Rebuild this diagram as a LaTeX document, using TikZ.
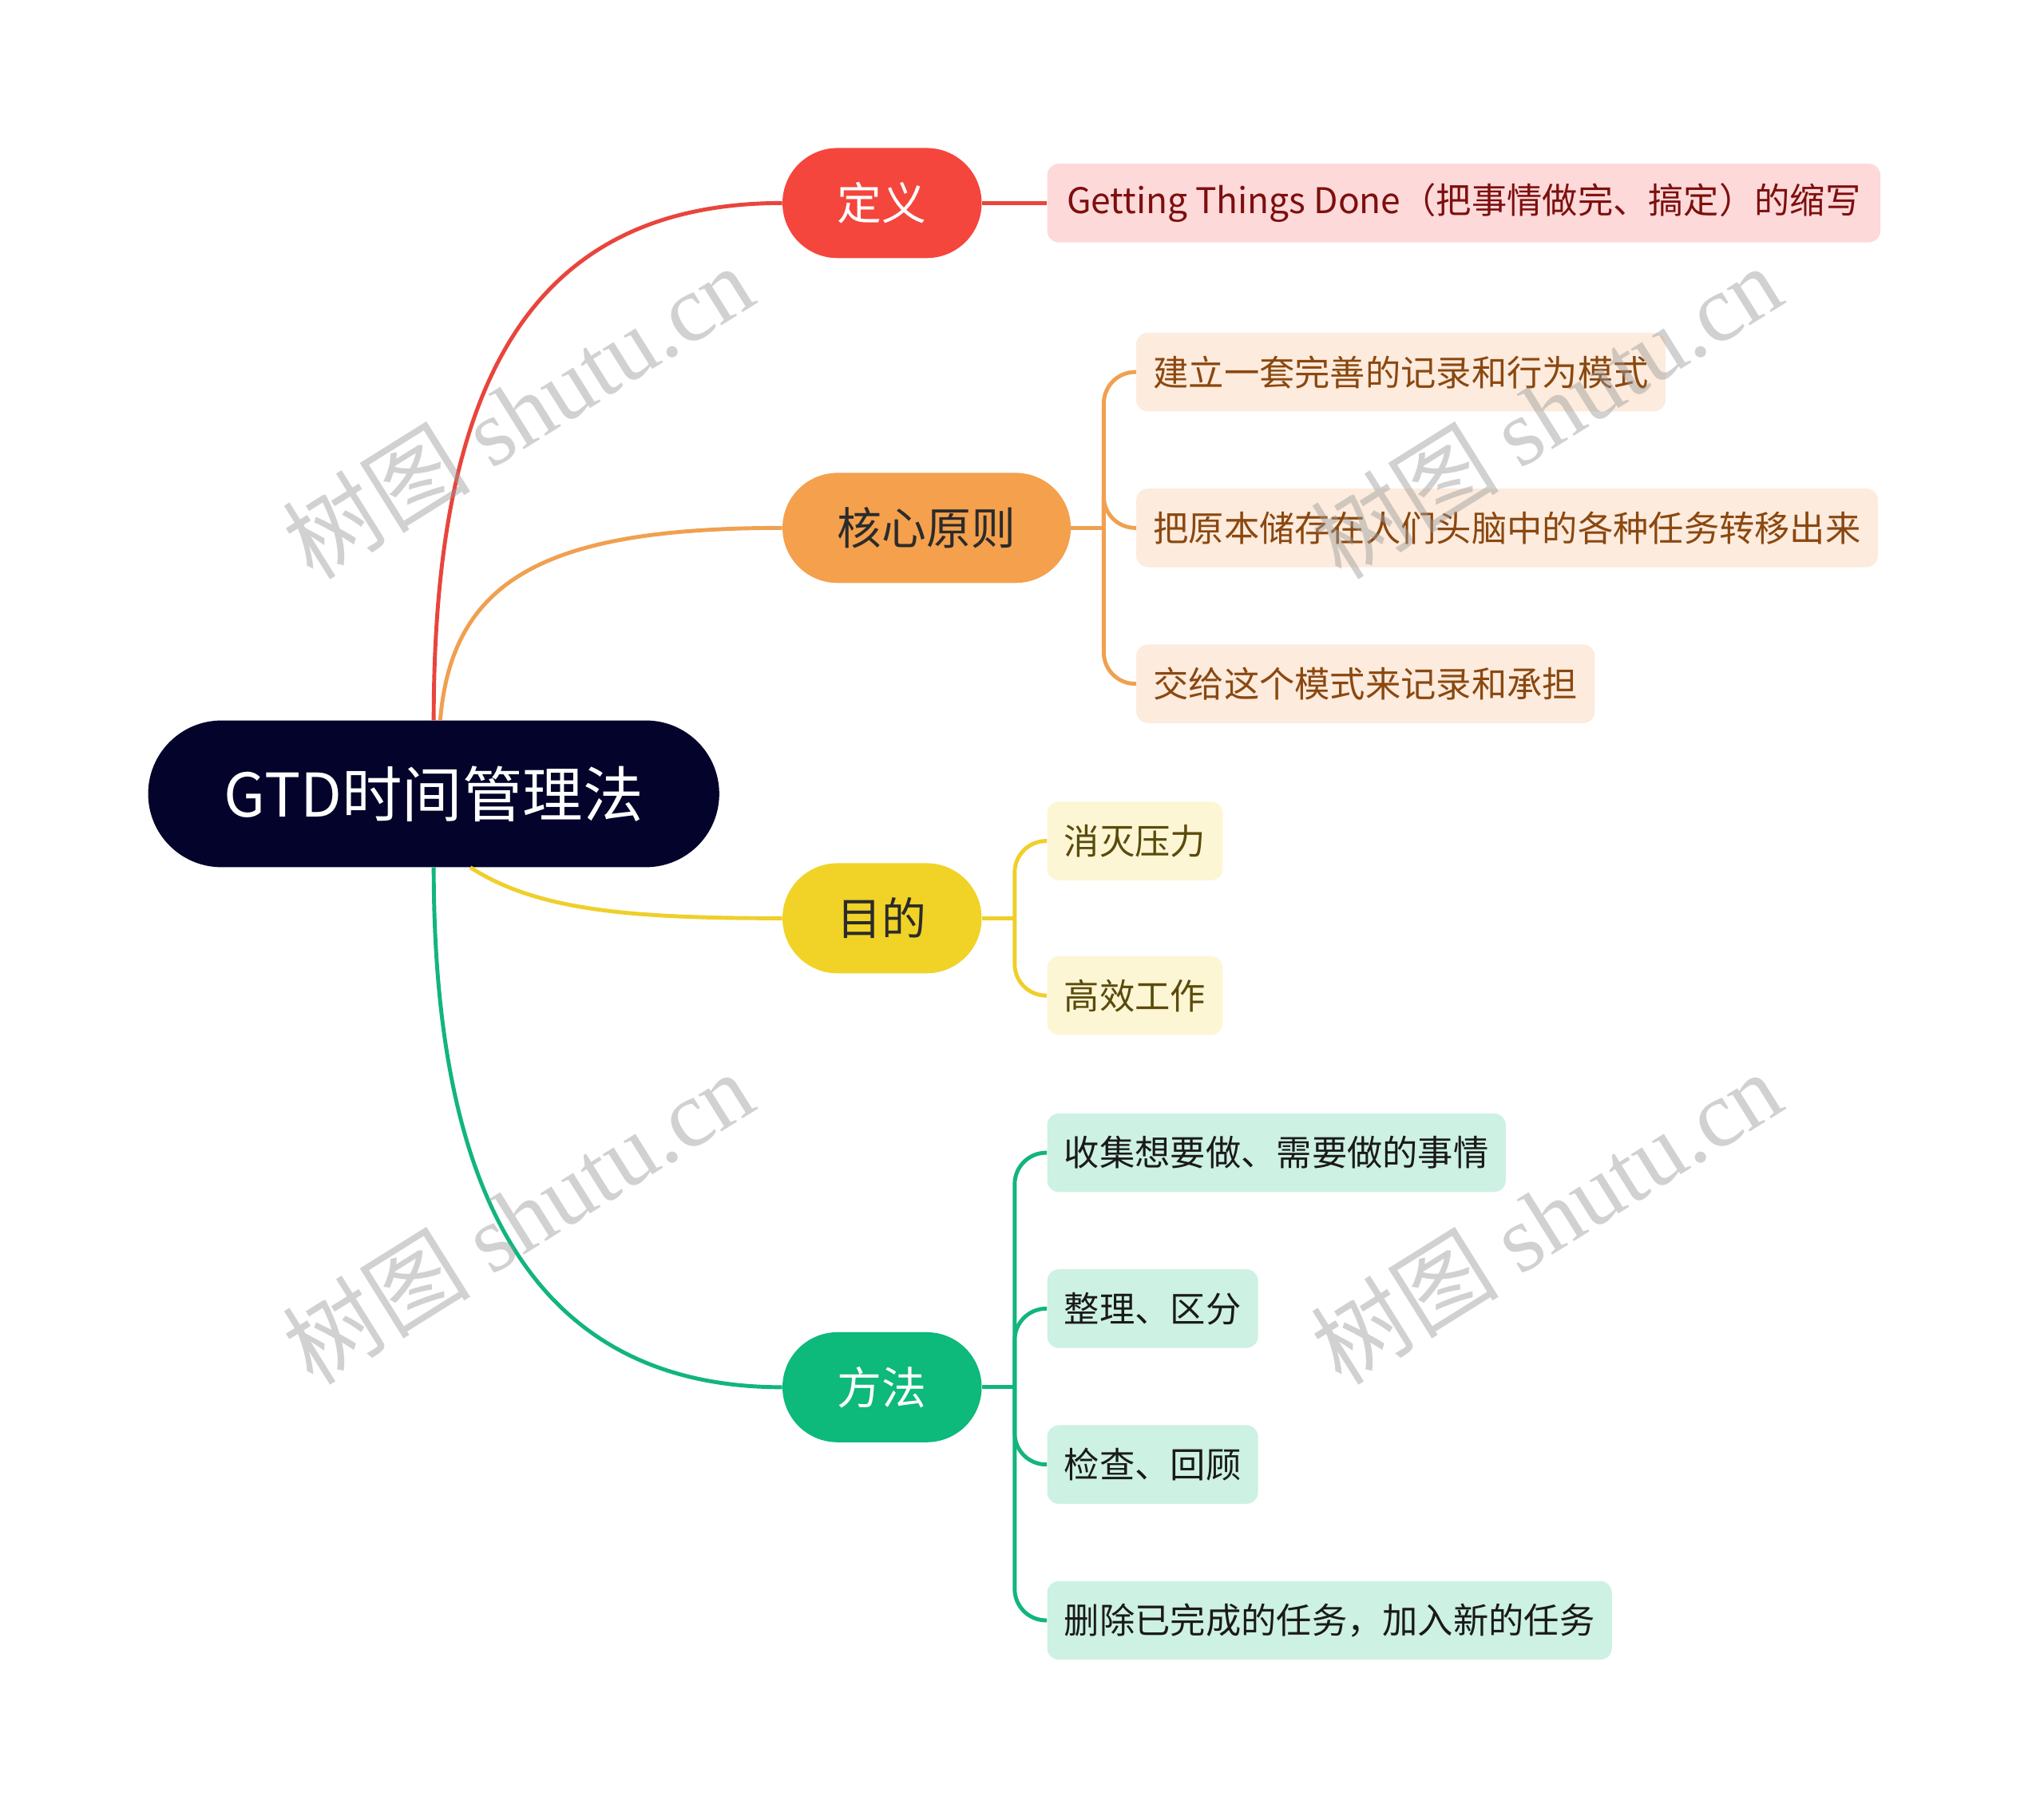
\documentclass[tikz,border=0pt]{standalone}
\usepackage{fontspec}
\setmainfont{Noto Sans CJK SC}
\newfontfamily\wmfont{Liberation Serif}
\definecolor{rootblue}{HTML}{03032B}
\definecolor{dyfill}{HTML}{F4463D}
\definecolor{dyline}{HTML}{E8453C}
\definecolor{dyleaf}{HTML}{FDD9D9}
\definecolor{dytext}{HTML}{7D0F0F}
\definecolor{hxfill}{HTML}{F4A04C}
\definecolor{hxline}{HTML}{F0A050}
\definecolor{hxleaf}{HTML}{FDEBDD}
\definecolor{hxtext}{HTML}{8A4810}
\definecolor{mdfill}{HTML}{F0D326}
\definecolor{mdline}{HTML}{EFCF2A}
\definecolor{mdleaf}{HTML}{FDF6D4}
\definecolor{mdtext}{HTML}{5A4B0C}
\definecolor{fffill}{HTML}{0DB97B}
\definecolor{ffline}{HTML}{12B57C}
\definecolor{ffleaf}{HTML}{CDF1E3}
\definecolor{fftext}{HTML}{1A1A1A}
\definecolor{darktext}{HTML}{2B2B2B}
\tikzset{
  branch/.style={anchor=west, rounded corners=42pt, minimum height=84pt,
    inner xsep=42pt, inner ysep=0pt, font=\fontsize{34pt}{40pt}\selectfont},
  leaf/.style={anchor=west, rounded corners=9pt, minimum height=60pt,
    inner xsep=13pt, inner ysep=0pt, font=\fontsize{27pt}{32pt}\selectfont},
  link/.style={line width=3pt},
  wm/.style={rotate=32, text=black!40, text opacity=0.45,
    font=\fontsize{72pt}{76pt}\selectfont}
}
\begin{document}
\begin{tikzpicture}[x=1pt,y=-1pt]
                \fill[white] (0,0) rectangle (1560,1376.6);
                \useasboundingbox (0,0) rectangle (1560,1376.6);
                %% root
                \node[fill=rootblue, text=white, rounded corners=56pt, minimum height=112pt,
                  inner xsep=58pt, inner ysep=0pt, font=\fontsize{46pt}{54pt}\selectfont]
                  (root) at (331,606) {GTD时间管理法};
                %% branches
                \node[branch, fill=dyfill, text=white] (dy) at (597,155) {定义};
                \node[branch, fill=hxfill, text=darktext] (hx) at (597,403) {核心原则};
                \node[branch, fill=mdfill, text=darktext] (md) at (597,701) {目的};
                \node[branch, fill=fffill, text=white] (ff) at (597,1059) {方法};
                \draw[link, dyline] (root.north) .. controls (331,300) and (400,155) .. (dy.west);
                \draw[link, hxline] ([xshift=5pt]root.north) .. controls (345,440) and (420,403) .. (hx.west);
                \draw[link, mdline] ([xshift=28pt]root.south) .. controls (410,695) and (480,701) .. (md.west);
                \draw[link, ffline] (root.south) .. controls (331,900) and (400,1059) .. (ff.west);
                %% leaves
                \node[leaf, fill=dyleaf, text=dytext, inner xsep=15pt] (dy1) at (799,155) {Getting Things Done（把事情做完、搞定）的缩写};
                \draw[link, dyline] (dy.east) -- (dy1.west);
                \coordinate (hxb) at ([xshift=25pt]hx.east);
                \draw[link, hxline] (hx.east) -- (hxb);
                \foreach \y/\t [count=\i] in {284/建立一套完善的记录和行为模式,
                    403/把原本储存在人们头脑中的各种任务转移出来, 522/交给这个模式来记录和承担} {
                    \node[leaf, fill=hxleaf, text=hxtext] (hx\i) at (867,\y) {\t};
                    \draw[link, hxline, rounded corners=24pt] (hxb) |- (hx\i.west);
                }
                \coordinate (mdb) at ([xshift=25pt]md.east);
                \draw[link, mdline] (md.east) -- (mdb);
                \foreach \y/\t [count=\i] in {642/消灭压力, 760/高效工作} {
                    \node[leaf, fill=mdleaf, text=mdtext] (md\i) at (799,\y) {\t};
                    \draw[link, mdline, rounded corners=24pt] (mdb) |- (md\i.west);
                }
                \coordinate (ffb) at ([xshift=25pt]ff.east);
                \draw[link, ffline] (ff.east) -- (ffb);
                \foreach \y/\t [count=\i] in {880/收集想要做、需要做的事情, 999/整理、区分,
                    1118/检查、回顾, 1237/删除已完成的任务，加入新的任务} {
                    \node[leaf, fill=ffleaf, text=fftext] (ff\i) at (799,\y) {\t};
                    \draw[link, ffline, rounded corners=24pt] (ffb) |- (ff\i.west);
                }
                %% watermark
                \foreach \x/\y [count=\i] in {395/314, 1180/314, 395/929, 1180/929}
                    \node[wm] (wm\i) at (\x,\y) {树图 {\wmfont shutu.cn}};
\end{tikzpicture}
\end{document}
